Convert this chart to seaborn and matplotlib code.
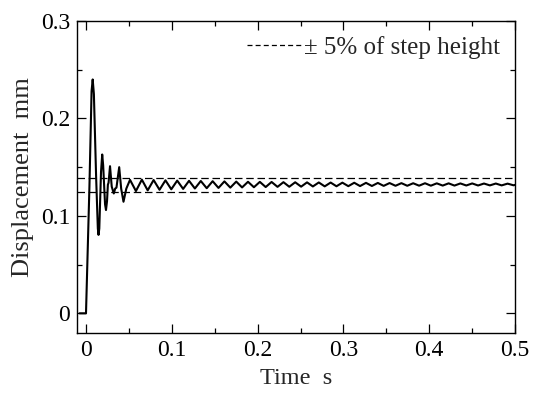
import numpy as np
import pandas as pd
import matplotlib
matplotlib.use("Agg")
import matplotlib.pyplot as plt
from matplotlib.lines import Line2D
import seaborn as sns

# Transient part (time s, displacement mm)
t_transient = [-0.0075, 0.0, 0.004, 0.0065, 0.0078, 0.0092, 0.0118, 0.0138, 0.0146,
               0.0155, 0.0175, 0.0189, 0.0200, 0.0222, 0.0233, 0.0245, 0.0255, 0.0263,
               0.0280, 0.0300, 0.0324, 0.0340, 0.0355, 0.0387, 0.0410, 0.0437, 0.0470]
y_transient = [0.0, 0.0, 0.130, 0.228, 0.240, 0.225, 0.140, 0.087, 0.0805,
               0.087, 0.145, 0.163, 0.152, 0.112, 0.106, 0.115, 0.132, 0.134,
               0.151, 0.130, 0.123, 0.128, 0.129, 0.150, 0.128, 0.1145, 0.128]

# Later small oscillation: peak and trough times / values
t_peaks = [0.0513, 0.0651, 0.0788, 0.0926, 0.1063, 0.1201, 0.1338, 0.1476, 0.1613,
           0.1751, 0.1888, 0.2026, 0.2163, 0.2301, 0.2438, 0.2576, 0.2713, 0.2851,
           0.2988, 0.3126, 0.3263, 0.3401, 0.3538, 0.3676, 0.3813, 0.3951, 0.4088,
           0.4226, 0.4363, 0.4501, 0.4638, 0.4776, 0.4913]
y_peaks = [0.1370, 0.1372, 0.1368, 0.1365, 0.1362, 0.1360, 0.1358, 0.1356, 0.1354,
           0.1352, 0.1350, 0.1349, 0.1348, 0.1346, 0.1345, 0.1344, 0.1343, 0.1342,
           0.1341, 0.1340, 0.1339, 0.1338, 0.1337, 0.1336, 0.1335, 0.1335, 0.1334,
           0.1334, 0.1333, 0.1333, 0.1332, 0.1332, 0.1331]
t_troughs = [0.0582, 0.0719, 0.0857, 0.0994, 0.1132, 0.1269, 0.1407, 0.1544, 0.1682,
             0.1819, 0.1957, 0.2094, 0.2232, 0.2369, 0.2507, 0.2644, 0.2782, 0.2919,
             0.3057, 0.3194, 0.3332, 0.3469, 0.3607, 0.3744, 0.3882, 0.4019, 0.4157,
             0.4294, 0.4432, 0.4569, 0.4707, 0.4844, 0.4982]
y_troughs = [0.1255, 0.1262, 0.1268, 0.1273, 0.1277, 0.1281, 0.1284, 0.1287, 0.1290,
             0.1292, 0.1294, 0.1296, 0.1298, 0.1299, 0.1300, 0.1302, 0.1303, 0.1304,
             0.1305, 0.1306, 0.1307, 0.1308, 0.1309, 0.1309, 0.1310, 0.1310, 0.1311,
             0.1311, 0.1312, 0.1312, 0.1313, 0.1313, 0.1314]
t_end = [0.5]
y_end = [0.1318]

band_levels = [0.1388, 0.1250]
legend_label = "\u00b1 5% of step height"
x_ticks = [0, 0.1, 0.2, 0.3, 0.4, 0.5]
x_ticklabels = ["0", "0.1", "0.2", "0.3", "0.4", "0.5"]
y_ticks = [0, 0.1, 0.2, 0.3]
y_ticklabels = ["0", "0.1", "0.2", "0.3"]

df = pd.DataFrame({
    "t": t_transient + t_peaks + t_troughs + t_end,
    "y": y_transient + y_peaks + y_troughs + y_end,
}).sort_values("t")

sns.set_theme(style="ticks")
plt.rcParams["font.family"] = ["Liberation Serif", "DejaVu Serif"]

fig = plt.figure(figsize=(5.41, 3.94), dpi=100)
ax = fig.add_axes([0.1423, 0.1548, 0.8097, 0.7919])

sns.lineplot(data=df, x="t", y="y", ax=ax, color="black", linewidth=1.5,
             estimator=None, sort=True)
for lv in band_levels:
    ax.axhline(lv, color="black", linewidth=0.9, linestyle=(0, (6, 3)))

ax.set_xlim(-0.0105, 0.5)
ax.set_ylim(-0.0202, 0.3)
ax.set_xticks(x_ticks)
ax.set_xticklabels(x_ticklabels)
ax.set_yticks(y_ticks)
ax.set_yticklabels(y_ticklabels)
ax.set_xticks(np.arange(0.05, 0.5, 0.1), minor=True)
ax.set_yticks([0.05, 0.15, 0.25], minor=True)
ax.tick_params(which="both", direction="in", top=True, right=True,
               labelsize=17, colors="black", width=0.9)
ax.tick_params(which="major", length=6.5, pad=5)
ax.tick_params(which="minor", length=3.5)
for s in ax.spines.values():
    s.set_linewidth(1.0)
    s.set_color("black")

ax.set_xlabel("Time  s", fontsize=17.5, labelpad=5)
ax.set_ylabel("Displacement  mm", fontsize=19, labelpad=5)

handle = Line2D([], [], color="black", linewidth=0.9, linestyle=(0, (4, 2.5)))
ax.legend([handle], [legend_label], loc="upper right", frameon=False,
          fontsize=18, handlelength=2.2, handletextpad=0.1,
          borderaxespad=0.2, bbox_to_anchor=(1.0, 1.0))

fig.savefig("out.png", dpi=100)
